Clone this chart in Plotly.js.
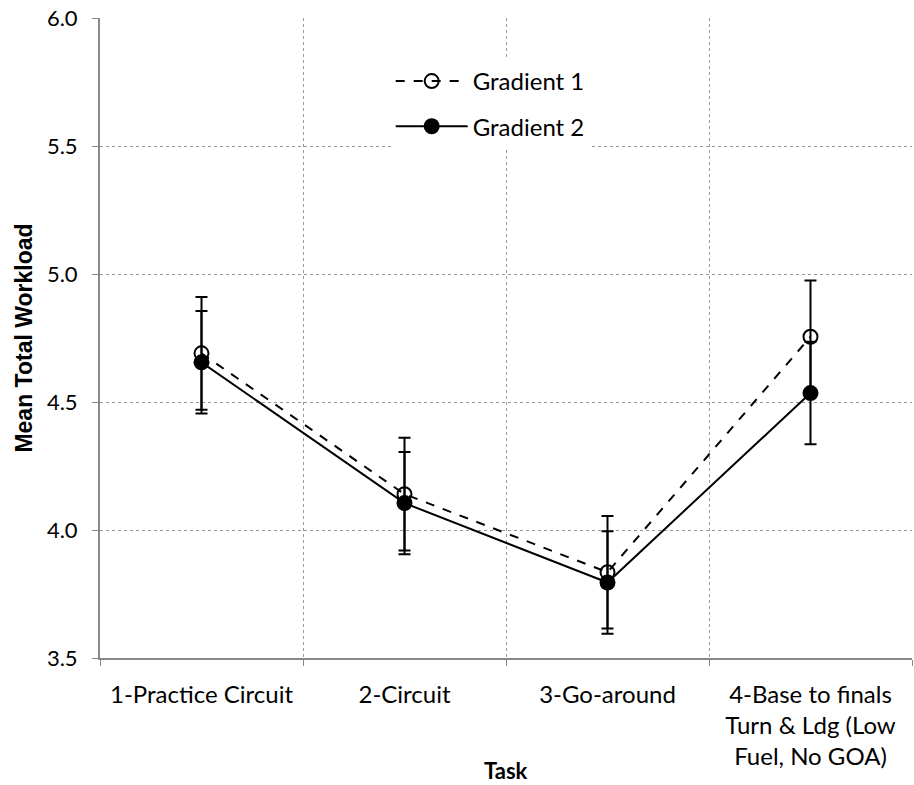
<!DOCTYPE html>
<html>
<head>
<meta charset="utf-8">
<script src="https://cdn.plot.ly/plotly-3.0.1.min.js"></script>
<style>
  html, body { margin: 0; padding: 0; background: #fff; }
  #chart { width: 914px; height: 785px; }
</style>
</head>
<body>
<div id="chart"></div>
<script>
// Task categories along the x axis
const tasks = [
  "1-Practice Circuit",
  "2-Circuit",
  "3-Go-around",
  "4-Base to finals<br>Turn & Ldg (Low<br>Fuel, No GOA)"
];

// Mean total workload per task, with error half-widths
const gradient1 = [4.69, 4.14, 3.835, 4.755];
const gradient1Err = [0.22, 0.22, 0.22, 0.22];
const gradient2 = [4.655, 4.105, 3.795, 4.535];
const gradient2Err = [0.20, 0.20, 0.20, 0.20];

const yTicks = [3.5, 4.0, 4.5, 5.0, 5.5, 6.0];

const SANS = "Lato, 'Open Sans', sans-serif";

const errStyle = (arr) => ({
  type: "data", array: arr, visible: true,
  color: "#000", thickness: 2, width: 6
});

const traces = [
  {
    name: "Gradient 1", legendgroup: "g1",
    x: tasks, y: gradient1,
    type: "scatter", mode: "lines+markers",
    line: { color: "#000", width: 2, dash: "dash" },
    marker: { symbol: "circle-open", size: 14, color: "#000", line: { width: 2, color: "#000" } },
    error_y: errStyle(gradient1Err)
  },
  {
    name: "Gradient 2", legendgroup: "g2",
    x: tasks, y: gradient2,
    type: "scatter", mode: "lines+markers",
    line: { color: "#000", width: 2 },
    marker: { symbol: "circle", size: 16, color: "#000" },
    error_y: errStyle(gradient2Err)
  }
];

const layout = {
  width: 914, height: 785,
  margin: { l: 100, r: 2, t: 18, b: 127 },
  paper_bgcolor: "#fff", plot_bgcolor: "#fff",
  showlegend: true,
  legend: {
    x: 0.358, y: 0.936, xanchor: "left", yanchor: "top",
    bgcolor: "#fff", borderwidth: 0,
    font: { family: SANS, size: 24, color: "#000" },
    itemwidth: 72, traceorder: "grouped", tracegroupgap: 11
  },
  xaxis: {
    type: "category",
    tickson: "boundaries",
    showgrid: true, gridcolor: "#999", griddash: "dot", gridwidth: 1,
    showline: true, linecolor: "#888", linewidth: 2,
    ticks: "outside", ticklen: 6, tickcolor: "#888", tickwidth: 1,
    ticklabelstandoff: 14,
    tickfont: { family: SANS, size: 24, color: "#000" },
    range: [-0.5, 3.5], fixedrange: true,
    zeroline: false
  },
  yaxis: {
    range: [3.5, 6.0],
    tickvals: yTicks,
    tickformat: ".1f",
    showgrid: true, gridcolor: "#999", griddash: "dot", gridwidth: 1,
    showline: true, linecolor: "#888", linewidth: 2,
    ticks: "outside", ticklen: 6, tickcolor: "#888", tickwidth: 1,
    ticklabelstandoff: 10,
    tickfont: { family: SANS, size: 22, color: "#000" },
    title: { text: "<b>Mean Total Workload</b>", font: { family: "'Liberation Sans', Arial, sans-serif", size: 23, color: "#000" }, standoff: 8 },
    zeroline: false
  },
  annotations: [
    {
      // x axis title, placed beside the multi-line tick labels
      text: "<b>Task</b>", showarrow: false,
      xref: "paper", yref: "paper", x: 0.5, y: 0, yanchor: "middle",
      yshift: -112,
      font: { family: SANS, size: 22, color: "#000" }
    }
  ]
};

Plotly.newPlot("chart", traces, layout, { displayModeBar: false, staticPlot: true });
</script>
</body>
</html>
